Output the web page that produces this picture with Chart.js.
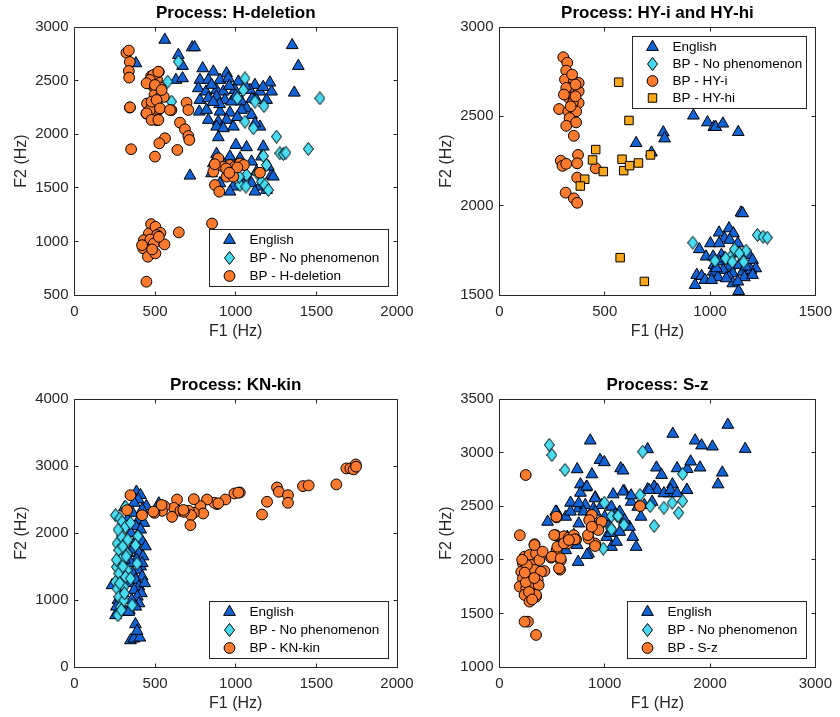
<!DOCTYPE html>
<html>
<head>
<meta charset="utf-8">
<title>F1 / F2 by process</title>
<script src="https://cdn.jsdelivr.net/npm/chart.js@4.4.1/dist/chart.umd.min.js"></script>
<style>
  html, body { margin: 0; padding: 0; background: #fff; overflow: hidden; }
  #wrap { position: relative; width: 840px; height: 717px; }
  canvas { position: absolute; }
</style>
</head>
<body>
<div id="wrap">
  <canvas id="hdel" width="425" height="345" style="left:0;top:0"></canvas>
  <canvas id="hy" width="415" height="345" style="left:425px;top:0"></canvas>
  <canvas id="kn" width="425" height="345" style="left:0;top:372px"></canvas>
  <canvas id="sz" width="415" height="345" style="left:425px;top:372px"></canvas>
</div>
<script>
// ---- data: [F1, F2] in Hz ----

// Process: H-deletion
const hdelXTicks = [0, 500, 1000, 1500, 2000];
const hdelYTicks = [500, 1000, 1500, 2000, 2500, 3000];
const hdelEnglish = [
  [560,2880],[730,2810],[745,2810],[1350,2830],[1388,2636],[1363,2387],[381,2661],[644,2739],[670,2636],[629,2506],[670,2521],
  [795,2614],[861,2583],[943,2568],
  [778,2506],[830,2506],[902,2506],[954,2521],[1016,2490],[1119,2459],[1212,2481],
  [768,2428],[815,2397],[881,2412],[923,2397],[995,2412],[1088,2412],[1150,2397],[1222,2397],
  [778,2319],[830,2335],[881,2350],[933,2319],[974,2304],[1036,2304],[1067,2241],[1129,2319],[1191,2319],
  [774,2210],[819,2226],[902,2210],[964,2201],[1036,2226],[1098,2179],
  [830,2133],[892,2117],[943,2133],[881,2070],[923,2055],[985,2070],[1150,2070],[1119,2101],[892,1971],
  [850,2460],[1000,2360],[1060,2450],[900,2280],[1170,2440],[1100,2330],[960,2450],[860,2300],[1010,2160],
  [1001,1899],[1067,1878],[1171,1884],[881,1815],[964,1791],[1026,1775],[1098,1744],[1160,1791],[1222,1620],[1233,1604],
  [861,1728],[923,1728],[1005,1697],[850,1635],[964,1604],[1067,1604],[1129,1651],[1202,1697],[902,1542],[985,1511],
  [1047,1526],[1098,1542],[1150,1511],[964,1464],[1119,1464],[1191,1480],[716,1613]
];
const hdelNoPhen = [
  [644,2677],[578,2490],[602,2304],[1057,2521],[1047,2412],[1010,2335],[1119,2304],[1175,2263],[1057,2117],[1109,2055],
  [1253,1977],[1522,2335],[1450,1862],[1274,1822],[1295,1815],[1311,1828],[1171,1797],[1191,1713],[1067,1620],[1134,1635],
  [1026,1526],[1063,1511],[1160,1557],[1181,1526],[1202,1480],[1022,1604]
];
const hdelProcess = [
  [322,2760],[337,2780],[343,2674],[337,2590],[339,2528],[343,2248],[351,1860],
  [475,2540],[512,2509],[523,2581],[492,2441],[533,2435],[467,2472],[496,2369],[533,2348],[450,2286],[481,2261],[446,2192],
  [502,2177],[512,2130],[523,2230],[554,2348],[601,2224],[502,2301],[467,2224],[489,2552],[520,2583],[468,2506],[447,2475],
  [499,2459],[540,2412],[478,2304],[509,2319],[530,2241],[447,2195],[478,2133],[520,2133],[592,2226],[695,2294],[706,2226],[344,2251],
  [654,2108],[685,2046],[706,1983],[712,1946],[561,1962],[526,1915],[638,1853],[499,1791],
  [892,1775],[861,1651],[871,1526],[898,1464],[964,1713],[995,1697],[1026,1728],[1051,1713],[943,1604],[985,1604],
  [1150,1641],[923,1697],[870,1720],[940,1680],[1010,1690],[960,1640],
  [475,1161],[461,1074],[502,1136],[533,1080],[512,1059],[430,1012],[446,950],[471,1018],[492,981],[426,935],
  [455,857],[502,888],[558,972],[647,1084],[853,1167],[446,624],[523,1043],[419,965],[481,925]
];

// Process: HY-i and HY-hi
const hyXTicks = [0, 500, 1000, 1500];
const hyYTicks = [1500, 2000, 2500, 3000];
const hyEnglish = [
  [921,2504],[988,2466],[1018,2440],[1027,2440],[1061,2459],[1134,2412],[778,2410],[784,2376],[649,2350],[722,2297],
  [1147,1961],[1155,1957],[1043,1849],[1090,1873],[1111,1845],[1069,1817],[1002,1789],[949,1756],[1043,1789],[1093,1808],
  [1132,1789],[981,1715],[1015,1715],[1054,1724],[1186,1724],[1202,1696],[1019,1668],[1046,1687],[1093,1659],[1139,1668],
  [1217,1649],[937,1612],[960,1606],[1015,1630],[1062,1640],[1108,1621],[1155,1630],[1194,1640],[976,1584],[1038,1599],
  [1090,1599],[1163,1599],[929,1556],[1108,1565],[1132,1575],[1136,1522],[1077,1593],[1202,1612],[1007,1584],[1069,1705],
  [1139,1733],[1171,1659],[1030,1649]
];
const hyNoPhen = [
  [918,1793],[1225,1836],[1252,1826],[1272,1821],[1116,1756],[1171,1748],[1139,1733],[1096,1711],[1074,1705],[1105,1686],
  [1160,1686],[1023,1692]
];
const hyI = [
  [303,2831],[322,2800],[317,2756],[311,2706],[353,2696],[338,2659],[317,2659],[364,2640],[376,2640],[330,2603],
  [353,2593],[376,2575],[348,2575],[283,2541],[327,2528],[364,2528],[333,2490],[317,2447],[364,2466],[353,2391],
  [373,2284],[291,2252],[299,2223],[317,2234],[369,2237],[457,2209],[369,2157],[314,2073],[353,2041],[369,2016],
  [345,2734],[376,2687],[306,2622],[361,2612],[338,2556],[361,2678]
];
const hyHi = [
  [566,2691],[615,2477],[457,2314],[442,2256],[582,2260],[590,2196],[618,2224],[660,2239],[717,2284],[493,2191],
  [405,2148],[384,2110],[573,1709],[688,1576]
];

// Process: KN-kin
const knXTicks = [0, 500, 1000, 1500, 2000];
const knYTicks = [0, 1000, 2000, 3000, 4000];
const knEnglish = [
  [384,2615],[409,2565],[446,2401],[523,2441],[543,2401],[395,2500],[370,2450],[420,2350],[360,2300],[400,2200],
  [430,2150],[380,2100],[410,2050],[350,2000],[395,1950],[420,1880],[440,1800],[375,1850],[360,1750],[400,1700],
  [425,1650],[385,1600],[350,1550],[410,1500],[395,1450],[360,1400],[420,1350],[380,1300],[340,1250],[400,1200],
  [370,1150],[415,1100],[390,1050],[355,1000],[400,950],[380,900],[340,850],[320,820],[233,1220],[254,772],
  [337,822],[270,1000],[300,1100],[290,1400],[310,1600],[330,1700],[300,1900],[260,900],[347,398],[368,423],
  [405,438],[378,637],[388,538],[420,1550],[435,1250],[330,2200],[310,2380]
];
const knNoPhen = [
  [254,2266],[281,2216],[295,2167],[316,2092],[347,2152],[264,1843],[275,1743],[285,1594],[260,1494],[275,1395],
  [254,1270],[264,1171],[275,1046],[285,897],[269,772],[326,1445],[316,1345],[347,1320],[393,1953],[388,1544],
  [357,922],[306,996],[326,1693],[306,1195],[378,1818],[316,2391],[290,1950],[270,2050],[300,1800],[320,1650],
  [260,1600],[300,1500],[280,1250],[310,1100],[290,850],[330,1900]
];
const knProcess = [
  [1686,2964],[1711,2964],[1731,2949],[1744,3023],[1746,2990],[1624,2725],[1417,2700],[1452,2710],[1256,2680],[1267,2615],
  [1324,2565],[1324,2451],[1194,2466],[1163,2276],[1025,2605],[992,2590],[936,2500],[884,2431],[868,2451],[822,2500],
  [781,2401],[798,2291],[740,2302],[709,2331],[723,2266],[719,2117],[740,2505],[636,2500],[626,2331],[616,2376],
  [605,2241],[558,2401],[543,2331],[496,2301],[419,2266],[326,2341],[347,2565],[657,2331],[678,2316],[489,2319],
  [540,2418],[675,2344],[892,2443],[1016,2602]
];

// Process: S-z
const szXTicks = [0, 1000, 2000, 3000];
const szYTicks = [1000, 1500, 2000, 2500, 3000, 3500];
const szEnglish = [
  [2169,3259],[1646,3175],[862,3112],[1858,3112],[1920,3066],[2023,3056],[2334,3034],[1407,3031],[955,2931],[996,2910],
  [1151,2853],[1173,2832],[738,2844],[878,2797],[1491,2860],[1540,2791],[1687,2853],[1784,2847],[1816,2916],[1905,2860],
  [2116,2813],[2076,2703],[1643,2703],[769,2703],[822,2675],[769,2625],[675,2532],[909,2582],[1080,2610],[1183,2641],
  [1251,2541],[1407,2657],[1475,2675],[1780,2650],[1609,2619],[457,2354],[542,2448],[629,2401],[753,2479],[815,2510],
  [893,2479],[971,2510],[1064,2494],[1142,2448],[1313,2494],[1376,2510],[1344,2401],[1235,2307],[1266,2213],[1298,2120],
  [747,1980],[846,2057],[1064,2120],[1111,2167],[1018,2213],[909,2276],[566,2151],[644,2213],[629,2089],[753,2338],
  [1142,2260],[1189,2370],[909,2448],[1018,2338],[534,2449],[675,2449],[752,2527],[830,2682],[908,2573],[1173,2636],
  [799,2449],[737,2138],[830,2045],[706,2231],[1000,2400],[1100,2420],[1250,2600],[1050,2250],
  [1469,2682],[1500,2651],[1562,2620],[1625,2651],[1687,2620],[1780,2651],[1422,2651],[1450,2540]
];
const szNoPhen = [
  [473,3072],[498,2978],[622,2838],[1360,3009],[1740,2800],[1335,2604],[996,2532],[1431,2501],[1562,2485],[1640,2532],
  [1740,2548],[1702,2438],[1469,2316],[1183,2329],[1064,2407],[1120,2407],[1058,2292],[986,2104],[1126,2409],[1182,2325],
  [1064,2284]
];
const szProcess = [
  [249,2791],[193,2229],[1335,2501],[542,2395],[871,2416],[965,2354],[874,2307],[909,2151],[846,2198],[535,2229],
  [613,2220],[660,2207],[706,2229],[728,2189],[644,2151],[542,2089],[489,2020],[582,1995],[575,1908],[333,2145],
  [389,2067],[426,1895],[238,2029],[285,2045],[347,2060],[223,1967],[301,1952],[378,1998],[207,1889],[270,1874],
  [332,1905],[394,1889],[223,1827],[301,1812],[363,1812],[192,1750],[254,1734],[316,1750],[372,1765],[238,1672],
  [301,1687],[347,1656],[285,1610],[347,1672],[270,1423],[238,1423],[347,1299],[332,2138],[410,2076],[497,2029],
  [581,2014],[565,1921],[519,2231],[550,2122],[612,2154],[715,2191],[540,2402],[659,2185],[840,2231],[908,2129],
  [877,2418],[852,2371],[970,2356],[939,2278],[877,2309],[260,1950],[250,1790],[280,1700],[310,1630],[240,1880],
  [330,1830],[215,2000]
];

// ---- styling ----
Chart.defaults.font.family = "'Liberation Sans', Arial, Helvetica, sans-serif";
const AXIS_COLOR = '#262626';

// MATLAB-like diamond is taller than wide, so draw it on a small canvas
function makeDiamond(fill) {
  const c = document.createElement('canvas');
  c.width = 11; c.height = 14;
  const g = c.getContext('2d');
  g.beginPath();
  g.moveTo(5.5, 0.5); g.lineTo(10.5, 7); g.lineTo(5.5, 13.5); g.lineTo(0.5, 7);
  g.closePath();
  g.fillStyle = fill; g.fill();
  g.lineWidth = 1; g.strokeStyle = '#000'; g.stroke();
  return c;
}
const diamond = makeDiamond('#48DCF2');

const markers = {
  english: { pointStyle: 'triangle', radius: 6.8, color: '#1163D6', order: 3 },
  noPhen: { pointStyle: diamond, radius: 6, color: '#48DCF2', order: 2 },
  process: { pointStyle: 'circle', radius: 5.4, color: '#FB7A2E', order: 1 },
  square: { pointStyle: 'rect', radius: 6, color: '#F9A81C', order: 0 }
};

function series(label, points, kind) {
  const m = markers[kind];
  return {
    label: label,
    data: points.map(p => ({ x: p[0], y: p[1] })),
    pointStyle: m.pointStyle,
    pointRadius: m.radius,
    pointHoverRadius: m.radius,
    backgroundColor: m.color,
    borderColor: '#000',
    borderWidth: 1,
    order: m.order
  };
}

function drawMarker(ctx, d, x, y) {
  const st = d.pointStyle;
  const r = d.pointRadius;
  if (typeof st !== 'string') {
    ctx.drawImage(st, x - st.width / 2, y - st.height / 2);
    return;
  }
  ctx.beginPath();
  if (st === 'circle') {
    ctx.arc(x, y, r, 0, Math.PI * 2);
  } else if (st === 'triangle') {
    ctx.moveTo(x, y - r);
    ctx.lineTo(x + r * 0.866, y + r / 2);
    ctx.lineTo(x - r * 0.866, y + r / 2);
    ctx.closePath();
  } else {
    const s = r * Math.SQRT1_2;
    ctx.rect(x - s, y - s, 2 * s, 2 * s);
  }
  ctx.fillStyle = d.backgroundColor;
  ctx.fill();
  ctx.lineWidth = d.borderWidth;
  ctx.strokeStyle = d.borderColor;
  ctx.stroke();
}

// box round the axes with inward ticks on all four sides
const axesBox = {
  id: 'axesBox',
  afterDatasetsDraw(chart) {
    const { ctx, chartArea: a, scales: { x, y } } = chart;
    const snap = v => Math.floor(v) + 0.5;
    const L = snap(a.left), R = snap(a.right), T = snap(a.top), B = snap(a.bottom);
    ctx.save();
    ctx.strokeStyle = AXIS_COLOR;
    ctx.lineWidth = 1;
    ctx.beginPath();
    ctx.rect(L, T, R - L, B - T);
    x.ticks.forEach(t => {
      const px = snap(x.getPixelForValue(t.value));
      ctx.moveTo(px, B); ctx.lineTo(px, B - 4);
      ctx.moveTo(px, T); ctx.lineTo(px, T + 4);
    });
    y.ticks.forEach(t => {
      const py = snap(y.getPixelForValue(t.value));
      ctx.moveTo(L, py); ctx.lineTo(L + 4, py);
      ctx.moveTo(R, py); ctx.lineTo(R - 4, py);
    });
    ctx.stroke();
    ctx.restore();
  }
};

// legend drawn inside the plot area, like MATLAB's
const insideLegend = {
  id: 'insideLegend',
  afterDraw(chart, args, o) {
    const { ctx, chartArea: a } = chart;
    const sets = chart.data.datasets;
    ctx.save();
    ctx.font = o.fontSize + 'px ' + Chart.defaults.font.family;
    const tw = Math.max(...sets.map(d => ctx.measureText(d.label).width));
    const w = Math.round(o.textX + tw + o.padRight);
    const h = Math.round(o.padY * 2 + (sets.length - 1) * o.rowH);
    const left = Math.round(a.right - o.gap - w) + 0.5;
    const top = (o.corner === 'tr' ? Math.round(a.top + o.gap) : Math.round(a.bottom - o.gap - h)) + 0.5;
    ctx.fillStyle = '#fff';
    ctx.fillRect(left, top, w, h);
    ctx.strokeStyle = AXIS_COLOR;
    ctx.lineWidth = 1;
    ctx.strokeRect(left, top, w, h);
    sets.forEach((d, i) => {
      const cy = top + o.padY + i * o.rowH;
      drawMarker(ctx, d, left + o.markerX, cy);
      ctx.fillStyle = '#000';
      ctx.textAlign = 'left';
      ctx.textBaseline = 'middle';
      ctx.fillText(d.label, left + o.textX, cy);
    });
    ctx.restore();
  }
};

function axis(title, ticks, isX) {
  return {
    type: 'linear',
    min: ticks[0],
    max: ticks[ticks.length - 1],
    afterBuildTicks: s => { s.ticks = ticks.map(v => ({ value: v })); },
    afterFit: s => { if (isX) s.height = 50; else s.width = 74.5; },
    grid: { display: false, drawTicks: false },
    border: { display: false },
    ticks: {
      callback: v => String(v),
      color: AXIS_COLOR,
      font: { size: 15 },
      padding: isX ? 8 : 6,
      maxRotation: 0,
      autoSkip: false
    },
    title: {
      display: true,
      text: title,
      color: AXIS_COLOR,
      font: { size: 16 },
      padding: isX ? { top: 0, bottom: 3.4 } : { top: 12.1, bottom: 0 }
    }
  };
}

function makeChart(id, title, datasets, xTicks, yTicks, rightPad, legend) {
  return new Chart(document.getElementById(id), {
    type: 'scatter',
    data: { datasets: datasets },
    options: {
      responsive: false,
      animation: false,
      devicePixelRatio: 1,
      events: [],
      layout: { padding: { left: 0, right: rightPad, top: 0, bottom: 0 } },
      scales: {
        x: axis('F1 (Hz)', xTicks, true),
        y: axis('F2 (Hz)', yTicks, false)
      },
      plugins: {
        legend: { display: false },
        tooltip: { enabled: false },
        title: {
          display: true,
          text: title,
          fullSize: false,
          color: '#000',
          font: { size: 17, weight: 'bold' },
          padding: { top: 3, bottom: 3.6 }
        },
        insideLegend: legend
      }
    },
    plugins: [axesBox, insideLegend]
  });
}

const legend3 = { corner: 'br', gap: 9, fontSize: 13.5, markerX: 20, textX: 40, padRight: 9, padY: 10.5, rowH: 18 };
const legend4 = { corner: 'tr', gap: 9, fontSize: 13.5, markerX: 20, textX: 40, padRight: 4, padY: 10.5, rowH: 17 };

makeChart('hdel', 'Process: H-deletion', [
  series('English', hdelEnglish, 'english'),
  series('BP - No phenomenon', hdelNoPhen, 'noPhen'),
  series('BP - H-deletion', hdelProcess, 'process')
], hdelXTicks, hdelYTicks, 28, legend3);

makeChart('hy', 'Process: HY-i and HY-hi', [
  series('English', hyEnglish, 'english'),
  series('BP - No phenomenon', hyNoPhen, 'noPhen'),
  series('BP - HY-i', hyI, 'process'),
  series('BP - HY-hi', hyHi, 'square')
], hyXTicks, hyYTicks, 19.5, legend4);

makeChart('kn', 'Process: KN-kin', [
  series('English', knEnglish, 'english'),
  series('BP - No phenomenon', knNoPhen, 'noPhen'),
  series('BP - KN-kin', knProcess, 'process')
], knXTicks, knYTicks, 28, legend3);

makeChart('sz', 'Process: S-z', [
  series('English', szEnglish, 'english'),
  series('BP - No phenomenon', szNoPhen, 'noPhen'),
  series('BP - S-z', szProcess, 'process')
], szXTicks, szYTicks, 19.5, legend3);
</script>
</body>
</html>
